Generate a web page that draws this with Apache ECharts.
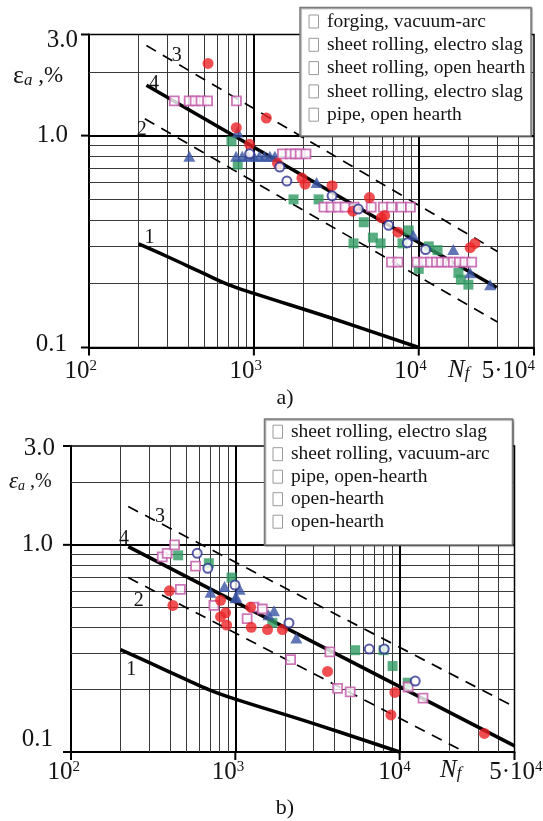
<!DOCTYPE html>
<html><head><meta charset="utf-8">
<script src="https://cdn.jsdelivr.net/npm/echarts@6/dist/echarts.min.js"></script>
<style>html,body{margin:0;padding:0;background:#fff}#c{width:543px;height:821px}</style>
</head><body><div id="c"></div>
<script>
// ---------- axis / grid values ----------
const xMin = 100, xMax = 50000, yMin = 0.1, yMax = 3.0;
const xGridMinor = [200,300,400,500,600,700,800,900,2000,3000,4000,5000,6000,7000,8000,9000,20000,30000,40000];
const xGridMajor = [1000, 10000];
const yGridMinor = [0.2,0.3,0.4,0.5,0.6,0.7,0.8,0.9,2.0];
const yGridMajor = [1.0];
const xTickValues = [100, 1000, 10000, 50000];
const xTickMain = ['10', '10', '10', '5·10'];
const xTickSup = ['2', '3', '4', '4'];
const yTickValues = [3.0, 1.0, 0.1];
const yTickLabels = ['3.0', '1.0', '0.1'];

// ---------- legends ----------
const legendA = ['forging, vacuum-arc', 'sheet rolling, electro slag', 'sheet rolling, open hearth', 'sheet rolling, electro slag', 'pipe, open hearth'];
const legendB = ['sheet rolling, electro slag', 'sheet rolling, vacuum-arc', 'pipe, open-hearth', 'open-hearth', 'open-hearth'];
const curveNames = ['1', '2', '3', '4'];

// ---------- panel a) curves ----------
const aCurve1 = [[200,0.308],[300,0.268],[500,0.223],[700,0.198],[1000,0.18],[3000,0.137],[10000,0.1]];
const aCurve2 = [[218,1.2],[30000,0.132]];
const aCurve3 = [[223,2.66],[30000,0.284]];
const aCurve4 = [[223,1.73],[29700,0.192]];

// ---------- panel a) data ----------
const aRed = [[527,2.19],[782,1.09],[942,0.91],[1190,1.21],[1390,0.74],[1955,0.63],[2045,0.59],[2980,0.58],[3980,0.44],[5020,0.51],[5930,0.41],[6210,0.42],[7480,0.35],[20500,0.296],[21900,0.31]];
const aGreen = [[731,0.94],[798,0.73],[1740,0.50],[2470,0.50],[4020,0.31],[4640,0.39],[5270,0.33],[5870,0.31],[7970,0.31],[8690,0.357],[10000,0.235],[11500,0.30],[13000,0.288],[17400,0.225],[18000,0.209],[20000,0.198]];
const aTri = [[406,0.80],[798,1.04],[780,0.80],[850,0.80],[920,0.80],[1000,0.80],[1080,0.80],[1160,0.80],[1250,0.80],[1340,0.80],[2400,0.60],[9250,0.34],[16200,0.29],[20500,0.225],[27100,0.198]];
const aOpenCircle = [[942,0.82],[1436,0.71],[1585,0.61],[2980,0.52],[4300,0.45],[6560,0.377],[8530,0.312],[11000,0.29]];
const aOpenSquare = [[329,1.46],[405,1.46],[440,1.46],[478,1.46],[524,1.46],[784,1.46],
  [1490,0.82],[1660,0.82],[1780,0.82],[1910,0.82],[2070,0.82],
  [2660,0.46],[2940,0.46],[3240,0.46],[3570,0.46],[4050,0.46],[5150,0.46],[6100,0.46],[6830,0.46],[7850,0.46],[8900,0.46],
  [6830,0.253],[7490,0.253],[9770,0.253],[10720,0.253],[11780,0.253],[12810,0.253],[13750,0.253],[14950,0.253],[16200,0.253],[17640,0.253],[19060,0.253],[20950,0.253]];

// ---------- panel b) curves ----------
const bCurve1 = [[200,0.312],[300,0.27],[500,0.224],[700,0.199],[1000,0.18],[3000,0.137],[10000,0.1]];
const bCurve2 = [[223,0.695],[23700,0.102]];
const bCurve3 = [[223,1.53],[50000,0.165]];
const bCurve4 = [[223,0.98],[50000,0.107]];

// ---------- panel b) data ----------
const bRed = [[397,0.60],[417,0.51],[813,0.54],[873,0.47],[813,0.45],[885,0.41],[1240,0.50],[1250,0.40],[1570,0.39],[1935,0.39],[3640,0.245],[9350,0.194],[8850,0.151],[32800,0.123]];
const bGreen = [[449,0.89],[690,0.815],[948,0.695],[1680,0.42],[5360,0.31],[7980,0.31],[9060,0.26],[11200,0.216]];
const bTri = [[706,0.59],[860,0.63],[1013,0.56],[1063,0.61],[1000,0.556],[1720,0.48],[1590,0.46],[2350,0.355]];
const bOpenCircle = [[586,0.91],[680,0.77],[995,0.64],[2120,0.42],[6530,0.314],[8060,0.314],[12440,0.22]];
const bOpenSquare = [[359,0.875],[385,0.91],[427,1.0],[573,0.79],[463,0.61],[741,0.51],[1300,0.50],[1460,0.49],[1180,0.44],[2170,0.279],[3760,0.304],[4190,0.203],[5000,0.195],[11270,0.206],[13870,0.182]];

// ---------- styling ----------
const SERIF = '"Liberation Serif", "DejaVu Serif", serif';
const RED = '#ec2327', GREEN = '#2f9a62', BLUE = '#3a54a4', NAVY = '#2e3192', MAG = '#c055a8';

const grids = [
  {left: 89, top: 34.5, width: 445, height: 313},
  {left: 71, top: 446, width: 443.5, height: 306}
];

function gridLineSeries(gi) {
  const v = (x) => ({coords: [[x, yMin], [x, yMax]]});
  const h = (y) => ({coords: [[xMin, y], [xMax, y]]});
  return [
    {type: 'lines', coordinateSystem: 'cartesian2d', xAxisIndex: gi, yAxisIndex: gi, polyline: false, silent: true, z: 1,
     lineStyle: {color: '#3a3a3a', width: 1, opacity: 1}, data: xGridMinor.map(v).concat(yGridMinor.map(h))},
    {type: 'lines', coordinateSystem: 'cartesian2d', xAxisIndex: gi, yAxisIndex: gi, polyline: false, silent: true, z: 1,
     lineStyle: {color: '#000', width: 2, opacity: 1}, data: xGridMajor.map(v).concat(yGridMajor.map(h))}
  ];
}
function curve(gi, data, dashed, width, smooth) {
  return {type: 'line', xAxisIndex: gi, yAxisIndex: gi, data: data, showSymbol: false, symbol: 'none', silent: true, z: 2,
    smooth: smooth ? 0.4 : false,
    lineStyle: {color: '#000', width: width, type: dashed ? [11, 8] : 'solid'}};
}
function pts(gi, data, kind) {
  const base = {type: 'scatter', xAxisIndex: gi, yAxisIndex: gi, data: data, silent: true, z: 3};
  if (kind === 'red') return Object.assign(base, {symbol: 'circle', symbolSize: 11, itemStyle: {color: RED}});
  if (kind === 'green') return Object.assign(base, {symbol: 'rect', symbolSize: 10, itemStyle: {color: GREEN}});
  if (kind === 'tri') return Object.assign(base, {symbol: 'triangle', symbolSize: [12, 11], itemStyle: {color: BLUE}});
  if (kind === 'oc') return Object.assign(base, {symbol: 'circle', symbolSize: 9, itemStyle: {color: '#fff', borderColor: NAVY, borderWidth: 2}});
  return Object.assign(base, {symbol: 'rect', symbolSize: 9, itemStyle: {color: '#fff', borderColor: MAG, borderWidth: 1.8}});
}
function axisX(gi) {
  return {gridIndex: gi, type: 'log', logBase: 10, min: xMin, max: xMax,
    axisLine: {show: true, onZero: false, lineStyle: {color: '#000', width: 2}},
    axisTick: {show: false}, axisLabel: {show: false}, splitLine: {show: false}};
}
function axisY(gi) {
  return {gridIndex: gi, type: 'log', logBase: 10, min: yMin, max: yMax,
    axisLine: {show: true, onZero: false, lineStyle: {color: '#000', width: 2}},
    axisTick: {show: false}, axisLabel: {show: false}, splitLine: {show: false}};
}

const series = [].concat(
  gridLineSeries(0), gridLineSeries(1),
  [curve(0, aCurve1, false, 3.5, true), curve(0, aCurve2, true, 1.7), curve(0, aCurve3, true, 1.7), curve(0, aCurve4, false, 3.5)],
  [curve(1, bCurve1, false, 3.5, true), curve(1, bCurve2, true, 1.7), curve(1, bCurve3, true, 1.7), curve(1, bCurve4, false, 3.5)],
  [pts(0, aGreen, 'green'), pts(0, aTri, 'tri'), pts(0, aOpenSquare, 'os'), pts(0, aRed, 'red'), pts(0, aOpenCircle, 'oc')],
  [pts(1, bGreen, 'green'), pts(1, bTri, 'tri'), pts(1, bOpenSquare, 'os'), pts(1, bRed, 'red'), pts(1, bOpenCircle, 'oc')]
);

const chart = echarts.init(document.getElementById('c'), null, {renderer: 'canvas'});
chart.setOption({
  animation: false,
  backgroundColor: '#fff',
  grid: grids.map(g => Object.assign({show: true, borderColor: '#000', borderWidth: 1.5, backgroundColor: 'transparent'}, g)),
  xAxis: [axisX(0), axisX(1)],
  yAxis: [axisY(0), axisY(1)],
  series: series
});

// ---------- decorations positioned through the chart's scales ----------
const px = (gi, x, y) => chart.convertToPixel({gridIndex: gi}, [x, y]);
const g = [];
function txt(x, y, text, size, align, opts) {
  g.push({type: 'text', z: 50, x: x, y: y, style: Object.assign({text: text, fontFamily: SERIF, fontSize: size,
    fill: '#141414', align: align || 'left', verticalAlign: 'middle'}, opts || {})});
}
const panelLayout = [
  {yLab: [[-11, 6], [-21, 0], [-22, -3]], xLabDy: 24, xLabDx: [8, 8, 8, 1],
   eps: {x: 13, y: 76, italic: false, size: 23}, nf: {x: 448, y: 370}, tag: {x: 285, y: 398, t: 'a)'},
   legend: {x: 300, y: 7.5, w: 231, h: 128.5, bx: 309, tx: 327, y0: 21.5, dy: 23.3, items: legendA},
   curveLab: [[149.5, 237.5], [141.7, 130], [176.7, 55.7], [154, 83.3]]},
  {yLab: [[-16, 2], [-18, 0], [-18, -13]], xLabDy: 20, xLabDx: [9, 9, 11, 28],
   eps: {x: 9, y: 482, italic: true, size: 20}, nf: {x: 440, y: 770}, tag: {x: 285, y: 808, t: 'b)'},
   legend: {x: 264.5, y: 419, w: 248, h: 126, bx: 273, tx: 291, y0: 431.7, dy: 22.5, items: legendB},
   curveLab: [[131.3, 670], [138.7, 600.5], [160, 516.5], [124, 539]]}
];

panelLayout.forEach((L, gi) => {
  // y ticks + labels
  yTickValues.forEach((v, i) => {
    const p = px(gi, xMin, v);
    g.push({type: 'line', z: 40, shape: {x1: p[0] - 8, y1: p[1], x2: p[0], y2: p[1]}, style: {stroke: '#000', lineWidth: 2}});
    txt(p[0] + L.yLab[i][0], p[1] + L.yLab[i][1], yTickLabels[i], 25, 'right');
  });
  // x ticks + labels
  xTickValues.forEach((v, i) => {
    const p = px(gi, v, yMin);
    g.push({type: 'line', z: 40, shape: {x1: p[0], y1: p[1], x2: p[0], y2: p[1] + 8}, style: {stroke: '#000', lineWidth: 2}});
    txt(p[0] + L.xLabDx[i], p[1] + L.xLabDy, '{m|' + xTickMain[i] + '}{s|' + xTickSup[i] + '}', 25, 'right', {
      rich: {m: {fontFamily: SERIF, fontSize: 25}, s: {fontFamily: SERIF, fontSize: 15, verticalAlign: 'top'}}
    });
  });
  // axis names
  const E = L.eps;
  txt(E.x, E.y, '{e|ε}{a|a}{p| ,%}', E.size, 'left', {
    rich: {e: {fontFamily: SERIF, fontSize: E.size + 3, fontStyle: E.italic ? 'italic' : 'normal'},
           a: {fontFamily: SERIF, fontSize: Math.round(E.size * 0.72), fontStyle: 'italic', verticalAlign: 'bottom'},
           p: {fontFamily: SERIF, fontSize: E.size}}
  });
  txt(L.nf.x, L.nf.y, '{n|N}{f|f}', 25, 'left', {
    rich: {n: {fontFamily: SERIF, fontSize: 25, fontStyle: 'italic'},
           f: {fontFamily: SERIF, fontSize: 17, fontStyle: 'italic', verticalAlign: 'bottom'}}
  });
  txt(L.tag.x, L.tag.y, L.tag.t, 22, 'center');
  // curve numbers
  L.curveLab.forEach((c, i) => txt(c[0], c[1], curveNames[i], 20, 'center'));
  // legend box
  const G = L.legend;
  g.push({type: 'rect', z: 45, shape: {x: G.x, y: G.y, width: G.w, height: G.h},
    style: {fill: '#fff', stroke: '#7a7a7a', lineWidth: 1.5, shadowBlur: 1, shadowColor: 'rgba(0,0,0,0.35)', shadowOffsetX: 1, shadowOffsetY: 1}});
  G.items.forEach((t, i) => {
    const yy = G.y0 + i * G.dy;
    g.push({type: 'rect', z: 46, shape: {x: G.bx, y: yy - 6.5, width: 9.5, height: 13}, style: {fill: '#fff', stroke: '#9a9a9a', lineWidth: 1}});
    txt(G.tx, yy, t, 19.5, 'left');
  });
});
chart.setOption({graphic: g});
</script></body></html>
